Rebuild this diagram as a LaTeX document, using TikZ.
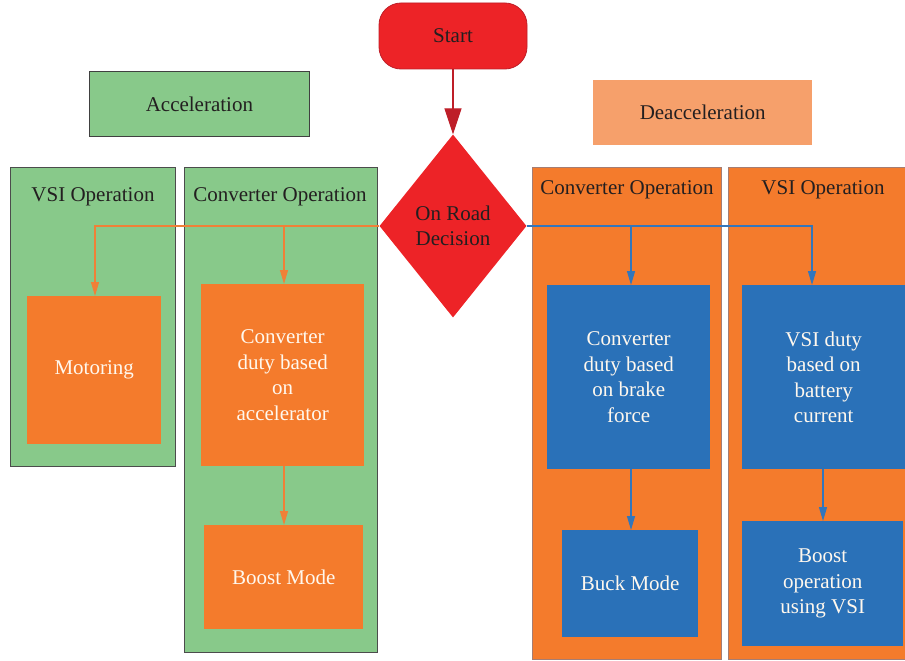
\documentclass[tikz,border=0pt]{standalone}
\usepackage{fontspec}
\setmainfont{Liberation Serif}
\usetikzlibrary{shapes.geometric,arrows.meta}
\definecolor{cred}{RGB}{237,35,39}
\definecolor{credd}{RGB}{190,30,40}
\definecolor{cgreen}{RGB}{136,201,138}
\definecolor{corange}{RGB}{244,123,44}
\definecolor{clorange}{RGB}{246,160,107}
\definecolor{cblue}{RGB}{42,113,184}
\definecolor{cline}{RGB}{240,128,55}
\definecolor{cbline}{RGB}{50,118,188}
\definecolor{ctext}{RGB}{35,31,32}
\definecolor{cwtext}{RGB}{255,248,238}
\definecolor{cobord}{RGB}{165,125,115}
\tikzset{
  x=1pt,y=-1pt,
  every node/.style={font=\fontsize{21}{25.5}\selectfont, inner sep=0pt, align=center},
  gcont/.style={draw=black!70, line width=1pt, fill=cgreen, anchor=north west},
  ocont/.style={draw=cobord, line width=1pt, fill=corange, anchor=north west},
  obox/.style={fill=corange, text=cwtext, anchor=north west},
  bbox/.style={fill=cblue, text=cwtext, anchor=north west},
  title/.style={text=ctext},
  oarr/.style={draw=cline, line width=1.2pt, -{Triangle[length=14pt,width=8pt]}},
  barr/.style={draw=cbline, line width=1.2pt, -{Triangle[length=14pt,width=8pt]}}
}
\begin{document}
\begin{tikzpicture}
\useasboundingbox (0,0) rectangle (905,661);
% header boxes
\node[fill=cgreen, draw=black!75, line width=0.8pt, anchor=north west, minimum width=220pt, minimum height=65pt, text=ctext] (acc) at (89,71) {Acceleration};
\node[fill=clorange, anchor=north west, minimum width=219pt, minimum height=65pt, text=ctext] (dec) at (593,80) {Deacceleration};
% containers
\node[gcont, minimum width=165pt, minimum height=299pt] (c1) at (10,167) {};
\node[gcont, minimum width=193pt, minimum height=485pt] (c2) at (184,167) {};
\node[ocont, minimum width=189pt, minimum height=492pt] (c3) at (532,167) {};
\node[ocont, minimum width=180pt, minimum height=492pt] (c4) at (728,167) {};
\node[title] (t1) at (93,197) {VSI Operation};
\node[title] (t2) at (280,197) {Converter Operation};
\node[title] (t3) at (627,190) {Converter Operation};
\node[title] (t4) at (823,190) {VSI Operation};
% start and decision
\node[fill=cred, draw=credd, line width=0.8pt, rounded corners=22pt, minimum width=148pt, minimum height=66pt, text=ctext] (start) at (453,36) {Start};
\node[diamond, fill=cred, minimum width=147pt, minimum height=183pt, text=ctext] (dcs) at (453,226) {On Road\\Decision};
% inner boxes
\node[obox, minimum width=134pt, minimum height=148pt] (mot) at (27,296) {Motoring};
\node[obox, minimum width=163pt, minimum height=182pt] (cda) at (201,284) {Converter\\duty based\\on\\accelerator};
\node[obox, minimum width=159pt, minimum height=104pt] (bst) at (204,525) {Boost Mode};
\node[bbox, minimum width=163pt, minimum height=184pt] (cdb) at (547,285) {Converter\\duty based\\on brake\\force};
\node[bbox, minimum width=136pt, minimum height=107pt] (buck) at (562,530) {Buck Mode};
\node[bbox, minimum width=163pt, minimum height=184pt] (vsid) at (742,285) {VSI duty\\based on\\battery\\current};
\node[bbox, minimum width=161pt, minimum height=125pt] (bvsi) at (742,521) {Boost\\operation\\using VSI};
% connector end points
\coordinate (motin) at (95,296);
\coordinate (cdain) at (284,284);
\coordinate (cdaout) at (284,466);
\coordinate (bstin) at (284,525);
\coordinate (cdbin) at (631,285);
\coordinate (cdbout) at (631,469);
\coordinate (buckin) at (631,530);
\coordinate (vsidin) at (812,285);
\coordinate (vsidout) at (823,469);
\coordinate (bvsiin) at (823,521);
% connectors
\draw[draw=credd, line width=1.2pt, -{Triangle[length=26pt,width=17pt]}, color=credd] (start.south) -- (dcs.north);
\draw[oarr] (dcs.west) -| (motin);
\draw[oarr] (dcs.west) -| (cdain);
\draw[barr] (dcs.east) -| (vsidin);
\draw[barr] (dcs.east) -| (cdbin);
\draw[oarr] (cdaout) -- (bstin);
\draw[barr] (cdbout) -- (buckin);
\draw[barr] (vsidout) -- (bvsiin);
\end{tikzpicture}
\end{document}
